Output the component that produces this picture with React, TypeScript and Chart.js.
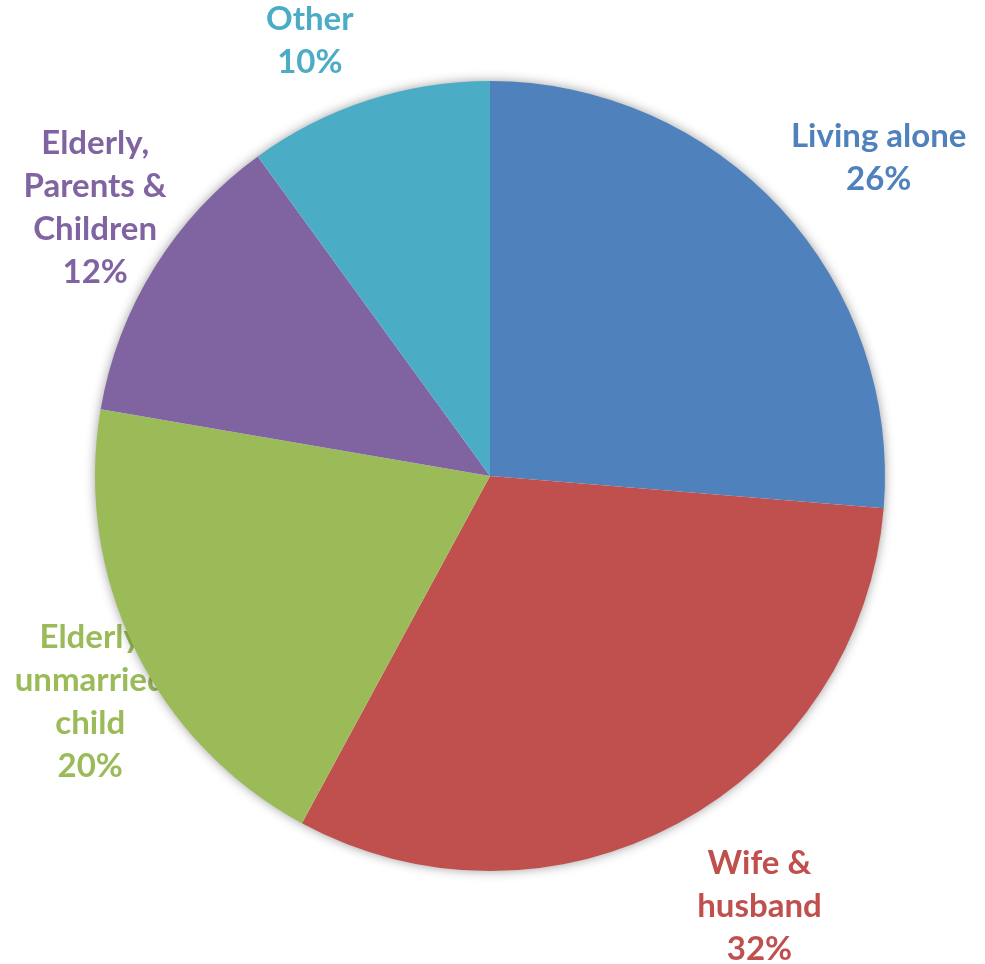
import React, { useEffect, useRef } from "react";
import { Chart, registerables } from "chart.js";

Chart.register(...registerables);

const categories = ["Living alone", "Wife & husband", "Elderly unmarried child", "Elderly, Parents & Children", "Other"];
const labelLines = [["Living alone"], ["Wife &", "husband"], ["Elderly", "unmarried", "child"], ["Elderly,", "Parents &", "Children"], ["Other"]];
const values = [26.3, 31.6, 19.8, 12.3, 10.0];
const colors = ["#4F81BD", "#C0504D", "#9BBB59", "#8064A2", "#4BACC6"];

// label placement (style): angle offset in degrees from slice middle, radial factor
const labelAngleOffset = [3.4, -3.6, -3.5, 2.3, -4.5];
const labelRadiusFactor = [1.271, 1.286, 1.162, 1.208, 1.192];

const FONT_FAMILY = "Lato, 'Open Sans', sans-serif";
const FONT_SIZE = 33;
const LINE_HEIGHT = 43;

const labelsPlugin = {
  id: "outerLabels",
  beforeDatasetsDraw(chart: any) {
    const ctx = chart.ctx;
    const meta = chart.getDatasetMeta(0);
    const total = values.reduce((a, b) => a + b, 0);
    ctx.save();
    ctx.font = `bold ${FONT_SIZE}px ${FONT_FAMILY}`;
    ctx.textAlign = "center";
    ctx.textBaseline = "middle";
    meta.data.forEach((arc: any, i: number) => {
      const { x, y, startAngle, endAngle, outerRadius } = arc.getProps(["x", "y", "startAngle", "endAngle", "outerRadius"], true);
      const mid = (startAngle + endAngle) / 2 + (labelAngleOffset[i] * Math.PI) / 180;
      const r = outerRadius * labelRadiusFactor[i];
      const cx = x + Math.cos(mid) * r;
      const cy = y + Math.sin(mid) * r;
      const lines = [...labelLines[i], `${Math.round((values[i] / total) * 100)}%`];
      const top = cy - ((lines.length - 1) * LINE_HEIGHT) / 2;
      ctx.fillStyle = colors[i];
      lines.forEach((t, k) => ctx.fillText(t, cx, top + k * LINE_HEIGHT));
    });
    // soft shadow under the pie
    const a0 = meta.data[0];
    if (a0) {
      const { x, y, outerRadius } = a0.getProps(["x", "y", "outerRadius"], true);
      ctx.shadowColor = "rgba(0,0,0,0.45)";
      ctx.shadowBlur = 12;
      ctx.fillStyle = "#ffffff";
      ctx.beginPath();
      ctx.arc(x, y, outerRadius - 1, 0, Math.PI * 2);
      ctx.fill();
    }
    ctx.restore();
  },
};

export default function App() {
  const ref = useRef<HTMLCanvasElement>(null);
  useEffect(() => {
    if (!ref.current) return;
    const chart = new Chart(ref.current, {
      type: "pie",
      data: {
        labels: categories,
        datasets: [
          {
            data: values,
            backgroundColor: colors,
            borderWidth: 0,
          },
        ],
      },
      options: {
        responsive: false,
        animation: false,
        layout: { padding: { left: 95, right: 100, top: 81, bottom: 93 } },
        plugins: { legend: { display: false }, tooltip: { enabled: false } },
      },
      plugins: [labelsPlugin],
    });
    return () => chart.destroy();
  }, []);
  return (
    <div style={{ position: "absolute", left: 0, top: 0, width: 985, height: 964, background: "#fff" }}>
      <canvas ref={ref} width={985} height={964} style={{ display: "block" }} />
    </div>
  );
}
